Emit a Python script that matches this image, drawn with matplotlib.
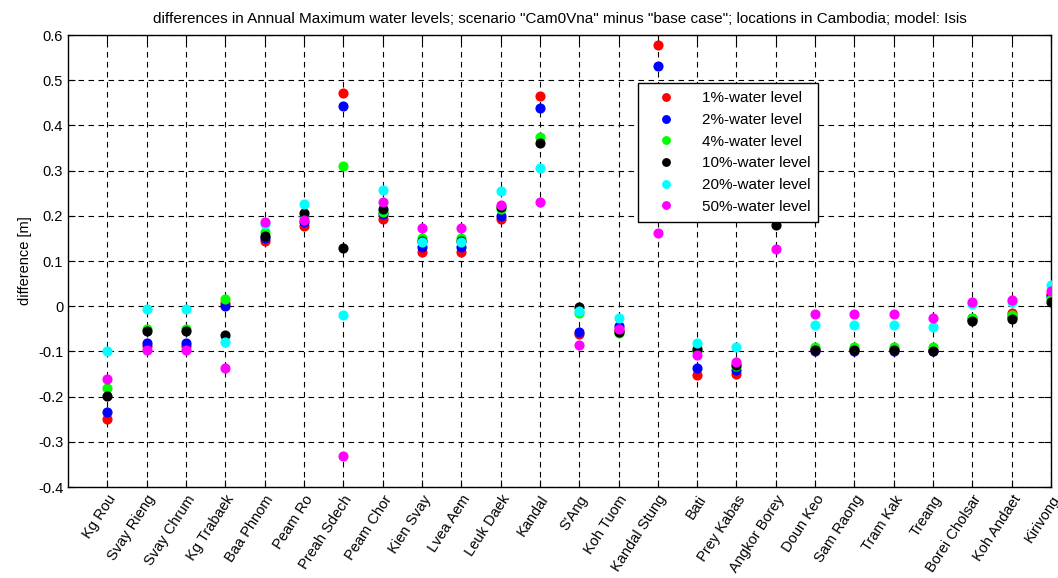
import numpy as np
import matplotlib
matplotlib.use("Agg")
import matplotlib.pyplot as plt

plt.rcParams['font.family'] = ['Liberation Sans', 'DejaVu Sans']

# locations (x axis)
locations = ["Kg Rou", "Svay Rieng", "Svay Chrum", "Kg Trabaek", "Baa Phnom",
             "Peam Ro", "Preah Sdech", "Peam Chor", "Kien Svay", "Lvea Aem",
             "Leuk Daek", "Kandal", "S'Ang", "Koh Tuom", "Kandal Stung", "Bati",
             "Prey Kabas", "Angkor Borey", "Doun Keo", "Sam Raong", "Tram Kak",
             "Treang", "Borei Cholsar", "Koh Andaet", "Kirivong"]

# differences [m] per water level
wl_1 = [-0.250, -0.087, -0.087, 0.007, 0.145, 0.178, 0.472, 0.194, 0.119, 0.119,
        0.192, 0.464, -0.062, -0.052, 0.578, -0.153, -0.149, 0.260, -0.095, -0.095,
        -0.095, -0.097, -0.027, -0.015, 0.028]
wl_2 = [-0.233, -0.081, -0.081, 0.001, 0.150, 0.186, 0.442, 0.204, 0.131, 0.131,
        0.200, 0.439, -0.057, -0.043, 0.531, -0.136, -0.140, 0.250, -0.099, -0.099,
        -0.099, -0.100, -0.030, -0.024, 0.022]
wl_4 = [-0.181, -0.050, -0.050, 0.015, 0.165, 0.198, 0.311, 0.209, 0.151, 0.151,
        0.214, 0.375, -0.016, -0.060, 0.450, -0.100, -0.133, 0.230, -0.090, -0.090,
        -0.090, -0.090, -0.025, -0.020, 0.017]
wl_10 = [-0.199, -0.055, -0.055, -0.063, 0.155, 0.207, 0.128, 0.216, 0.145, 0.145,
         0.220, 0.362, -0.002, -0.056, 0.420, -0.095, -0.129, 0.180, -0.096, -0.096,
         -0.096, -0.098, -0.033, -0.029, 0.009]
wl_20 = [-0.098, -0.007, -0.007, -0.079, 0.183, 0.227, -0.020, 0.257, 0.141, 0.141,
         0.255, 0.306, -0.010, -0.025, 0.300, -0.081, -0.090, 0.200, -0.042, -0.042,
         -0.042, -0.047, 0.006, 0.010, 0.048]
wl_50 = [-0.161, -0.096, -0.096, -0.136, 0.187, 0.190, -0.332, 0.231, 0.174, 0.174,
         0.225, 0.230, -0.086, -0.050, 0.161, -0.107, -0.124, 0.126, -0.017, -0.017,
         -0.017, -0.025, 0.010, 0.013, 0.034]

yticks = [-0.4, -0.3, -0.2, -0.1, 0, 0.1, 0.2, 0.3, 0.4, 0.5, 0.6]
ytick_labels = ["-0.4", "-0.3", "-0.2", "-0.1", "0", "0.1", "0.2", "0.3", "0.4", "0.5", "0.6"]

series = [(wl_1, (1, 0, 0), "1%-water level"),
          (wl_2, (0, 0, 1), "2%-water level"),
          (wl_4, (0, 1, 0), "4%-water level"),
          (wl_10, (0, 0, 0), "10%-water level"),
          (wl_20, (0, 1, 1), "20%-water level"),
          (wl_50, (1, 0, 1), "50%-water level")]

x = np.arange(1, len(locations) + 1)

fig = plt.figure(figsize=(10.58, 5.78), dpi=100)
ax = fig.add_axes([0.0643, 0.1574, 0.9291, 0.782])

for vals, col, lab in series:
    ax.plot(x, vals, linestyle='none', marker='o', markersize=6.3,
            markerfacecolor=col, markeredgecolor=col, label=lab, zorder=3)

ax.set_xlim(0, 25)
ax.set_ylim(-0.4, 0.6)
ax.set_yticks(yticks)
ax.set_yticklabels(ytick_labels)
ax.set_xticks(x)
ax.set_xticklabels(locations, rotation=57, ha='right', rotation_mode='anchor')
ax.tick_params(direction='in', labelsize=10.5, length=5, top=True, right=True)
ax.tick_params(axis='x', pad=4)

ax.grid(True, color='black', linestyle=(0, (5, 4)), linewidth=0.8)
for s in ax.spines.values():
    s.set_linewidth(1.0)

ax.set_ylabel("difference [m]", fontsize=10.5)
ax.set_title('differences in Annual Maximum water levels; scenario "Cam0Vna" minus '
             '"base case"; locations in Cambodia; model: Isis', fontsize=11, pad=9)

leg = ax.legend(loc='upper left', bbox_to_anchor=(0.58, 0.894), borderaxespad=0,
                fontsize=11, fancybox=False, edgecolor='black', framealpha=1,
                borderpad=0.55, labelspacing=0.5, handletextpad=1.0,
                handlelength=2.6, markerscale=0.85)
leg.get_frame().set_linewidth(1.0)
leg.set_zorder(10)

fig.savefig("out.png", dpi=100)
